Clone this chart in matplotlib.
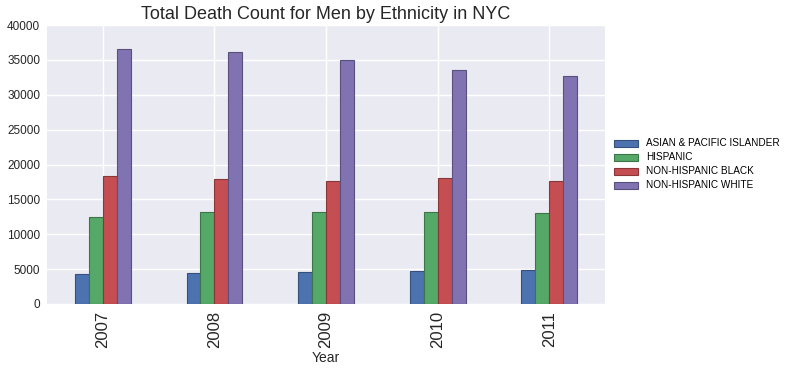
import matplotlib
matplotlib.use("Agg")
import matplotlib.pyplot as plt
import matplotlib.colors as mcolors
import numpy as np

years = ["2007", "2008", "2009", "2010", "2011"]
ethnicities = ["ASIAN & PACIFIC ISLANDER", "HISPANIC", "NON-HISPANIC BLACK", "NON-HISPANIC WHITE"]
asian = [4300, 4400, 4600, 4700, 4900]
hispanic = [12450, 13200, 13200, 13200, 13100]
black = [18400, 17850, 17700, 18000, 17700]
white = [36630, 36200, 35050, 33620, 32620]
series = [asian, hispanic, black, white]
colors = ["#4C72B0", "#55A868", "#C44E52", "#8172B2"]

plt.rcParams['font.family'] = ['Liberation Sans', 'DejaVu Sans']
fig = plt.figure(figsize=(7.86, 3.73), dpi=100)
ax = fig.add_axes([47/786, 1-304/373, (605-47)/786, (304-25)/373])
ax.set_facecolor("#EAEAF2")
for s in ax.spines.values():
    s.set_visible(False)
ax.grid(True, color="white", linewidth=1)
ax.set_axisbelow(True)

x = np.arange(len(years))
w = 0.125
for i, (vals, c) in enumerate(zip(series, colors)):
    edge = tuple(np.array(mcolors.to_rgb(c)) * 0.7)
    ax.bar(x - 0.25 + w * (i + 0.5), vals, w, color=c, edgecolor=edge,
           linewidth=0.8, label=ethnicities[i])

ax.set_xlim(-0.5, 4.5)
ax.set_ylim(0, 40000)
ax.set_xticks(x)
ax.set_xticklabels(years, rotation=90, fontsize=12, color="#262626")
ax.tick_params(axis='y', labelsize=8.5, labelcolor="#262626")
ax.tick_params(length=0, pad=5)
ax.set_xlabel("Year", fontsize=10, color="#262626", labelpad=2)
ax.set_title("Total Death Count for Men by Ethnicity in NYC", fontsize=13, color="#262626", pad=4)
ax.legend(loc="center left", bbox_to_anchor=(1.0, 0.5), frameon=False, fontsize=7.2,
          handlelength=2.4, handleheight=0.7, labelspacing=0.4)

fig.savefig("out.png", dpi=100)
